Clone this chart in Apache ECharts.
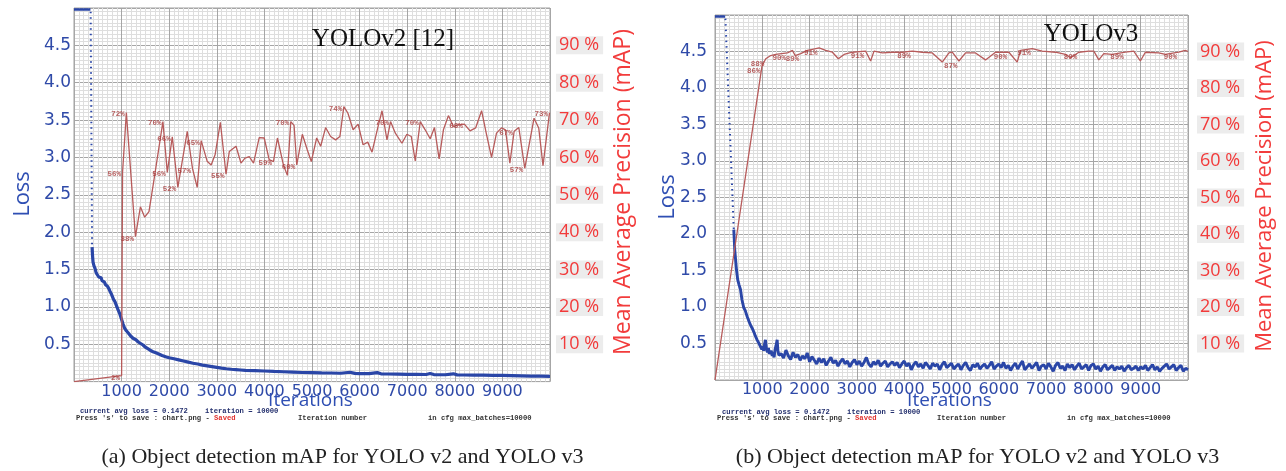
<!DOCTYPE html>
<html><head><meta charset="utf-8">
<script src="https://cdn.jsdelivr.net/npm/echarts@6/dist/echarts.min.js"></script>
<style>html,body{margin:0;padding:0;background:#fff}#c{width:1286px;height:471px}</style>
</head><body><div id="c"></div>
<script>
// ---------- tick labels ----------
const xTickLabels = ['1000','2000','3000','4000','5000','6000','7000','8000','9000'];
const lossTickLabels = ['0.5','1.0','1.5','2.0','2.5','3.0','3.5','4.0','4.5'];
const mapTickLabels = ['10 %','20 %','30 %','40 %','50 %','60 %','70 %','80 %','90 %'];

// ---------- YOLOv2 (left) ----------
const v2LossTop = [[0,4.98],[345,4.98]];
const v2LossDrop = [[350,4.95],[380,1.8]];
const v2Loss = [[380,1.80],[390,1.68],[400,1.60],[420,1.55],[440,1.52],[460,1.47],[480,1.44],[500,1.43],[520,1.40],[545,1.38],[570,1.39],[590,1.35],[615,1.34],[640,1.33],[660,1.30],[685,1.31],[710,1.27],[735,1.24],[755,1.21],[780,1.18],[805,1.14],[830,1.10],[860,1.07],[890,1.02],[920,0.97],[960,0.91],[990,0.85],[1030,0.77],[1060,0.72],[1100,0.68],[1140,0.65],[1190,0.61],[1240,0.58],[1300,0.56],[1350,0.53],[1400,0.51],[1450,0.49],[1500,0.46],[1550,0.44],[1600,0.42],[1660,0.40],[1720,0.385],[1780,0.37],[1850,0.35],[1940,0.33],[2000,0.32],[2100,0.305],[2200,0.29],[2300,0.275],[2400,0.26],[2500,0.245],[2600,0.235],[2700,0.22],[2800,0.21],[2900,0.20],[3000,0.19],[3100,0.18],[3200,0.172],[3300,0.165],[3400,0.16],[3500,0.155],[3600,0.15],[3800,0.147],[4000,0.142],[4200,0.136],[4400,0.132],[4600,0.127],[4800,0.122],[5000,0.12],[5200,0.117],[5400,0.115],[5600,0.112],[5800,0.125],[5900,0.11],[6000,0.108],[6200,0.106],[6370,0.12],[6450,0.104],[6600,0.102],[6800,0.10],[7000,0.098],[7200,0.097],[7400,0.095],[7480,0.108],[7560,0.094],[7800,0.092],[7970,0.104],[8050,0.09],[8200,0.088],[8400,0.087],[8600,0.086],[8800,0.084],[9000,0.082],[9200,0.08],[9400,0.077],[9600,0.074],[9800,0.072],[10000,0.07]];
const v2Map = [[0,0],[1000,1.6],[1020,56],[1100,72],[1291,38.8],[1395,46.8],[1485,44],[1575,45.5],[1680,54],[1868,69.6],[1960,56],[2065,65.5],[2182,52],[2379,67],[2490,57],[2588,52],[2672,64.5],[2797,59],[2881,58],[2964,60.7],[3075,69.4],[3194,55.5],[3263,61.6],[3404,63],[3508,58.5],[3592,59.8],[3682,60.2],[3772,58.5],[3891,65.3],[3996,65.2],[4100,59.4],[4190,58.9],[4274,65.2],[4399,58],[4483,55.2],[4554,69.6],[4623,68.6],[4680,58],[4797,66.2],[4902,62],[4985,58.9],[5098,65.2],[5182,63],[5286,68],[5391,65.6],[5496,64.7],[5586,65.6],[5669,73.6],[5753,71.9],[5864,67.4],[5969,68.9],[6073,63.4],[6171,64.1],[6261,61.4],[6381,67.9],[6471,72.5],[6575,64.7],[6650,69.6],[6751,66.5],[6889,63.8],[6993,66.2],[7086,65.6],[7169,59.1],[7274,69.6],[7378,67.4],[7483,65],[7573,68],[7671,59.6],[7761,67.4],[7866,71.2],[7971,68.3],[8075,68.7],[8201,68.9],[8320,67.1],[8437,67.9],[8563,72.5],[8667,66.1],[8772,60],[8876,66.5],[8981,67.9],[9065,67.4],[9157,58.5],[9247,67],[9345,68],[9470,57.1],[9665,70.5],[9763,67.9],[9853,57.8],[9990,72]];
const v2MapLabels = [[1000,1.6,'2%'],[1020,56,'56%'],[1100,72,'72%'],[1291,38.8,'38%'],[1868,69.6,'70%'],[1960,56,'56%'],[2065,65.5,'66%'],[2182,52,'52%'],[2490,57,'57%'],[2672,64.5,'65%'],[3194,55.5,'55%'],[4190,58.9,'59%'],[4680,58,'60%'],[4554,69.6,'70%'],[5669,73.6,'74%'],[6650,69.6,'70%'],[7274,69.6,'70%'],[8201,68.9,'68%'],[9247,67,'67%'],[9470,57.1,'57%'],[9990,72,'73%']];

// ---------- YOLOv3 (right) ----------
const v3LossTop = [[0,4.98],[215,4.98]];
const v3LossDrop = [[220,4.95],[397,2.06]];
const v3LossHead = [[397,2.06],[418,1.78],[454,1.51],[481,1.37],[510,1.30],[539,1.24],[570,1.10],[608,0.99],[640,0.95],[680,0.87],[720,0.80],[760,0.74],[786,0.71],[820,0.66],[855,0.60],[890,0.55],[930,0.50],[961,0.48],[990,0.42],[1010,0.46],[1030,0.40],[1050,0.50],[1067,0.55],[1090,0.42],[1110,0.38],[1130,0.44],[1150,0.36],[1172,0.35],[1190,0.40],[1210,0.33],[1230,0.38],[1250,0.31],[1270,0.42],[1290,0.47],[1314,0.55],[1330,0.40],[1350,0.34],[1375,0.35]];
const v3LossTail = [
[1400,0.36],[1450,0.30],[1500,0.41],[1550,0.33],[1600,0.28],[1650,0.38],[1700,0.31],[1750,0.35],[1800,0.27],[1850,0.33],[1900,0.29],[1950,0.37],
[2000,0.25],[2050,0.32],[2100,0.27],[2150,0.22],[2200,0.30],[2250,0.24],[2300,0.29],[2350,0.20],[2400,0.26],[2450,0.31],[2500,0.23],[2550,0.27],[2600,0.19],[2650,0.25],[2700,0.29],[2750,0.22],[2800,0.26],[2850,0.18],[2900,0.24],[2950,0.28],
[3000,0.21],[3050,0.26],[3100,0.19],[3150,0.24],[3200,0.31],[3250,0.22],[3300,0.18],[3350,0.25],[3400,0.21],[3450,0.27],[3500,0.19],[3550,0.23],[3600,0.26],[3650,0.18],[3700,0.22],[3750,0.25],[3800,0.20],[3850,0.24],[3900,0.17],[3950,0.22],
[4000,0.26],[4050,0.19],[4100,0.23],[4150,0.14],[4200,0.21],[4250,0.25],[4300,0.18],[4350,0.22],[4400,0.16],[4450,0.24],[4500,0.20],[4550,0.15],[4600,0.23],[4650,0.19],[4700,0.22],[4750,0.14],[4800,0.21],[4850,0.25],[4900,0.17],[4950,0.20],
[5000,0.23],[5050,0.15],[5100,0.19],[5150,0.22],[5200,0.14],[5250,0.20],[5300,0.24],[5350,0.17],[5400,0.13],[5450,0.21],[5500,0.18],[5550,0.23],[5600,0.15],[5650,0.19],[5700,0.22],[5750,0.16],[5800,0.20],[5850,0.25],[5900,0.15],[5950,0.19],
[6000,0.22],[6050,0.17],[6100,0.24],[6150,0.16],[6200,0.20],[6250,0.13],[6300,0.19],[6350,0.23],[6400,0.15],[6450,0.21],[6500,0.26],[6550,0.14],[6600,0.18],[6650,0.22],[6700,0.16],[6750,0.20],[6800,0.24],[6850,0.13],[6900,0.19],[6950,0.21],
[7000,0.15],[7050,0.23],[7100,0.18],[7150,0.12],[7200,0.20],[7250,0.24],[7300,0.16],[7350,0.19],[7400,0.13],[7450,0.22],[7500,0.17],[7550,0.21],[7600,0.14],[7650,0.19],[7700,0.23],[7750,0.15],[7800,0.18],[7850,0.21],[7900,0.13],[7950,0.20],
[8000,0.22],[8050,0.15],[8100,0.19],[8150,0.12],[8200,0.18],[8250,0.21],[8300,0.14],[8350,0.17],[8400,0.20],[8450,0.13],[8500,0.18],[8550,0.15],[8600,0.19],[8650,0.12],[8700,0.17],[8750,0.20],[8800,0.14],[8850,0.16],[8900,0.19],[8950,0.13],
[9000,0.18],[9050,0.15],[9100,0.20],[9150,0.13],[9200,0.17],[9250,0.21],[9300,0.14],[9350,0.18],[9400,0.12],[9450,0.16],[9500,0.19],[9550,0.22],[9600,0.15],[9650,0.18],[9700,0.21],[9750,0.13],[9800,0.17],[9850,0.20],[9900,0.12],[9950,0.16],[10000,0.14]
];
const v3Map = [[0,0],[993,86],[1073,88],[1178,88.9],[1284,89.2],[1531,89.6],[1637,90.3],[1694,88.9],[1812,89.4],[1954,90.3],[2059,90.6],[2201,91],[2340,90.3],[2482,89.8],[2608,88],[2729,89.2],[2904,89.8],[3185,90.1],[3290,87.4],[3362,90.1],[3538,89.6],[3749,89.8],[3960,89.8],[4171,90.1],[4382,89.8],[4594,89.6],[4805,87.1],[4946,89.6],[5016,89.8],[5157,87.4],[5297,89.6],[5508,89.6],[5719,87.7],[5930,89.8],[6213,89.8],[6389,87.1],[6459,90.3],[6706,90.8],[6917,90.1],[7198,89.8],[7409,89.2],[7515,88.3],[7692,89.8],[7903,90.1],[8009,90.1],[8114,87.7],[8220,89.4],[8395,89.2],[8676,89.8],[8853,90.1],[8993,87.4],[9098,89.8],[9381,89.6],[9521,89.2],[9804,89.8],[9943,90.3],[10000,90]];
const v3MapLabels = [[993,86,'86%'],[1073,88,'88%'],[1531,89.6,'90%'],[1812,89.4,'89%'],[2201,91,'91%'],[3185,90.1,'91%'],[4171,90.1,'89%'],[5157,87.4,'87%'],[6213,89.8,'90%'],[6706,90.8,'91%'],[7692,89.8,'89%'],[8676,89.8,'89%'],[9804,89.8,'90%']];

// ---------- styles ----------
const BLUE = '#2a46a7', AXBLUE = '#2f4aa8', RED = '#f23a3a', MAPC = '#b75b5b', LBLC = '#a83b3b';
const MAJOR = '#a6a6a6', MINOR = '#dedede';

function xAx(g){
  return {gridIndex:g, type:'value', min:0, max:10000, interval:1000,
    axisLine:{show:false}, axisTick:{show:false},
    splitLine:{show:true, lineStyle:{color:MAJOR, width:1}},
    minorTick:{show:false, splitNumber:10},
    minorSplitLine:{show:true, lineStyle:{color:MINOR, width:1}},
    axisLabel:{margin:2, color:AXBLUE, fontSize:16, fontFamily:'DejaVu Sans',
      formatter: v => xTickLabels.includes(String(v)) ? String(v) : ''}};
}
function yLoss(g, m){
  return {gridIndex:g, type:'value', min:0, max:5, interval:0.5, position:'left',
    axisLine:{show:false}, axisTick:{show:false},
    splitLine:{show:true, lineStyle:{color:MAJOR, width:1}},
    minorTick:{show:false, splitNumber:10},
    minorSplitLine:{show:true, lineStyle:{color:MINOR, width:1}},
    axisLabel:{margin:m, color:AXBLUE, fontSize:17, fontFamily:'DejaVu Sans',
      formatter: v => lossTickLabels.includes(v.toFixed(1)) ? v.toFixed(1) : ''}};
}
function yMap(g, m){
  return {gridIndex:g, type:'value', min:0, max:100, interval:10, position:'right',
    axisLine:{show:false}, axisTick:{show:false}, splitLine:{show:false},
    axisLabel:{margin:m, color:RED, fontSize:18, fontFamily:'Open Sans',
      backgroundColor:'#ececec', padding:[0,4,0,3],
      formatter: v => { const s = Math.round(v) + ' %'; return mapTickLabels.includes(s) ? s : ''; }}};
}
function lossSeries(xi, yi, data, w){
  return {type:'line', xAxisIndex:xi, yAxisIndex:yi, data:data, showSymbol:false, silent:true,
    animation:false, lineStyle:{color:BLUE, width:w}, z:3};
}
function dropSeries(xi, yi, data){
  return {type:'line', xAxisIndex:xi, yAxisIndex:yi, data:data, showSymbol:false, silent:true,
    animation:false, lineStyle:{color:BLUE, width:2, type:[1.5,4]}, z:3};
}
function mapSeries(xi, yi, data){
  return {type:'line', xAxisIndex:xi, yAxisIndex:yi, data:data, showSymbol:false, silent:true,
    animation:false, lineStyle:{color:MAPC, width:1.3}, z:4};
}
function labelSeries(xi, yi, data, dy){
  return {type:'scatter', xAxisIndex:xi, yAxisIndex:yi, data:data, symbolSize:1, silent:true,
    animation:false, itemStyle:{color:'rgba(0,0,0,0)'}, z:5,
    label:{show:true, position:'left', distance:1, offset:[0,dy], formatter:p => p.value[2],
      color:LBLC, fontSize:7.5, fontWeight:'bold', fontFamily:'Liberation Mono'}};
}
function txt(x, y, text, font, fill, align, rot){
  return {type:'text', x:x, y:y, rotation:rot || 0, silent:true, z:100, zlevel:0,
    style:{text:text, font:font, fill:fill, stroke:null, lineWidth:0, align:align || 'left', verticalAlign:'middle'}};
}
const MONO = 'bold 7.2px "Liberation Mono"';

const chart = echarts.init(document.getElementById('c'), null, {renderer:'canvas'});
chart.setOption({
  animation:false,
  backgroundColor:'#ffffff',
  grid:[
    {left:74, top:8, width:476, height:373.6, show:true, backgroundColor:'#fff', borderColor:'#a0a0a0', borderWidth:1},
    {left:715, top:15, width:473, height:365, show:true, backgroundColor:'#fff', borderColor:'#a0a0a0', borderWidth:1}
  ],
  xAxis:[xAx(0), xAx(1)],
  yAxis:[yLoss(0,3), yMap(0,6), yLoss(1,8), yMap(1,9)],
  series:[
    lossSeries(0,0,v2LossTop,2.5), dropSeries(0,0,v2LossDrop), lossSeries(0,0,v2Loss,3.2),
    mapSeries(0,1,v2Map), labelSeries(0,1,v2MapLabels,2),
    lossSeries(1,2,v3LossTop,2.5), dropSeries(1,2,v3LossDrop), lossSeries(1,2,v3LossHead.concat(v3LossTail),2.9),
    mapSeries(1,3,v3Map), labelSeries(1,3,v3MapLabels,5)
  ],
  graphic:{elements:[
    txt(383, 39, 'YOLOv2 [12]', '25px "Liberation Serif"', '#111111', 'center'),
    txt(1091, 34, 'YOLOv3', '25px "Liberation Serif"', '#111111', 'center'),
    txt(23, 194, 'Loss', '22px "Open Sans"', '#2f4fb3', 'center', Math.PI/2),
    txt(668, 197, 'Loss', '22px "Open Sans"', '#2f4fb3', 'center', Math.PI/2),
    txt(623, 192, 'Mean Average Precision (mAP)', '23px "Open Sans"', '#f23c3c', 'center', Math.PI/2),
    txt(1265, 196, 'Mean Average Precision (mAP)', '22px "Open Sans"', '#f23c3c', 'center', Math.PI/2),
    txt(310.5, 401, 'Iterations', '19px "Open Sans"', '#2f4fb3', 'center'),
    txt(949.5, 401, 'Iterations', '19px "Open Sans"', '#2f4fb3', 'center'),
    txt(80, 411, 'current avg loss = 0.1472    iteration = 10000', MONO, '#24306e'),
    txt(76, 418, "Press 's' to save : chart.png - ", MONO, '#333'),
    txt(214, 418, 'Saved', MONO, '#e0302c'),
    txt(298, 418, 'Iteration number', MONO, '#333'),
    txt(428, 418, 'in cfg max_batches=10000', MONO, '#333'),
    txt(722, 412, 'current avg loss = 0.1472    iteration = 10000', MONO, '#24306e'),
    txt(717, 418.5, "Press 's' to save : chart.png - ", MONO, '#333'),
    txt(855, 418.5, 'Saved', MONO, '#e0302c'),
    txt(937, 418.5, 'Iteration number', MONO, '#333'),
    txt(1067, 418.5, 'in cfg max_batches=10000', MONO, '#333'),
    txt(342.5, 457, '(a) Object detection mAP for YOLO v2 and YOLO v3', '22px "Liberation Serif"', '#222', 'center'),
    txt(977.5, 457, '(b) Object detection mAP for YOLO v2 and YOLO v3', '22px "Liberation Serif"', '#222', 'center')
  ]}
});
</script></body></html>
